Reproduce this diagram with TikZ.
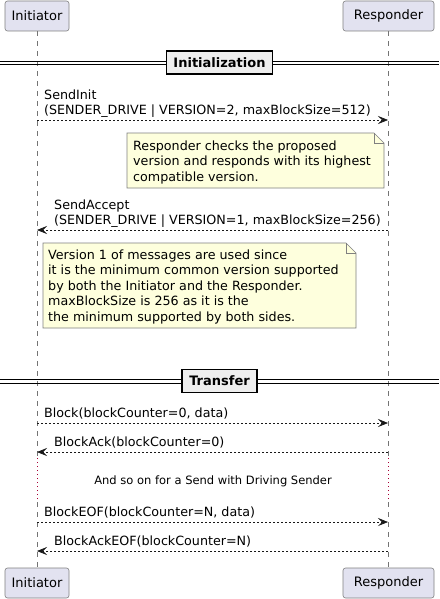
\documentclass[tikz,border=0pt]{standalone}
\usepackage{fontspec}
\setmainfont{DejaVu Sans}
\usetikzlibrary{arrows.meta, positioning}
\definecolor{partfill}{RGB}{226,226,240}
\definecolor{notefill}{RGB}{254,255,221}
\definecolor{dividerfill}{RGB}{238,238,238}
\definecolor{umlline}{RGB}{24,24,24}
\definecolor{delayred}{RGB}{168,0,54}

\tikzset{
  participant/.style={rectangle,draw=umlline!55,fill=partfill,rounded corners=2.5pt,line width=0.6pt,minimum height=30pt,inner sep=0pt,font=\fontsize{13}{15}\selectfont},
  lifeline/.style={umlline!60,line width=0.6pt,dash pattern=on 5pt off 5pt},
  delayline/.style={delayred,line width=0.9pt,dash pattern=on 1pt off 3pt},
  message/.style={umlline,line width=0.7pt,dash pattern=on 2pt off 2pt,-{Stealth[length=10pt,width=8pt,inset=4pt]}},
  msglabel/.style={anchor=north west,inner sep=0pt,align=left,font=\fontsize{12.7}{15}\selectfont},
  divider/.style={rectangle,draw=black,line width=1.6pt,fill=dividerfill,minimum height=23pt,inner xsep=7pt,font=\fontsize{13}{15}\selectfont\bfseries},
  dividerline/.style={black,line width=0.8pt},
  notebox/.style={draw=umlline!55,fill=notefill,line width=0.6pt},
  notetext/.style={anchor=north west,inner sep=0pt,align=left,font=\fontsize{12.7}{15.5}\selectfont},
  delaytext/.style={inner sep=0pt,anchor=base,font=\fontsize{11.5}{13}\selectfont}
}

\begin{document}
\begin{tikzpicture}[x=1pt,y=-1pt]
    \useasboundingbox[fill=white] (0,0) rectangle (439,599);

    % Partecipanti
    \node[participant,minimum width=64pt] (initTop) at (37,16) {Initiator};
    \node[participant,minimum width=91pt] (respTop) at (388.5,16) {Responder};
    \node[participant,minimum width=64pt] (initBot) at (37,583) {Initiator};
    \node[participant,minimum width=91pt] (respBot) at (388.5,583) {Responder};

    % Linee di vita
    \coordinate (initDelayA) at (37,458);
    \coordinate (initDelayB) at (37,502);
    \coordinate (respDelayA) at (388,458);
    \coordinate (respDelayB) at (388,502);
    \draw[lifeline] (initTop.south) -- (initDelayA);
    \draw[delayline] (initDelayA) -- (initDelayB);
    \draw[lifeline] (initDelayB) -- (initBot.north);
    \draw[lifeline] (respTop.south -| respDelayA) -- (respDelayA);
    \draw[delayline] (respDelayA) -- (respDelayB);
    \draw[lifeline] (respDelayB) -- (respBot.north -| respDelayB);

    % Initialization
    \draw[dividerline] (0,61) -- (439,61);
    \draw[dividerline] (0,64.5) -- (439,64.5);
    \node[divider] (initSection) at (219.5,62.5) {Initialization};

    % Punti dei messaggi
    \foreach \msg/\y in {sendinit/120, sendaccept/230, block/423, blockack/452, blockeof/522, blockackeof/551} {
        \coordinate (init-\msg) at (37,\y);
        \coordinate (resp-\msg) at (388,\y);
    }

    % SendInit
    \node[msglabel] (sendInitLabel) at (44,89.5) {SendInit\\(SENDER\_DRIVE | VERSION=2, maxBlockSize=512)};
    \draw[message] (init-sendinit) -- (resp-sendinit);

    % Nota 1
    \draw[notebox] (127,133) -- (374,133) -- (384,143) -- (384,188) -- (127,188) -- cycle;
    \draw[notebox,fill=none] (374,133) -- (374,143) -- (384,143);
    \node[notetext] (checkNote) at (133,140.5) {Responder checks the proposed\\version and responds with its highest\\compatible version.};

    % SendAccept
    \node[msglabel] (sendAcceptLabel) at (54,199.5) {SendAccept\\(SENDER\_DRIVE | VERSION=1, maxBlockSize=256)};
    \draw[message] (resp-sendaccept) -- (init-sendaccept);

    % Nota 2
    \draw[notebox] (43,243) -- (346,243) -- (356,253) -- (356,328) -- (43,328) -- cycle;
    \draw[notebox,fill=none] (346,243) -- (346,253) -- (356,253);
    \node[notetext] (versionNote) at (48,249.5) {Version 1 of messages are used since\\it is the minimum common version supported\\by both the Initiator and the Responder.\\maxBlockSize is 256 as it is the\\the minimum supported by both sides.};

    % Transfer
    \draw[dividerline] (0,379.5) -- (439,379.5);
    \draw[dividerline] (0,383) -- (439,383);
    \node[divider] (transferSection) at (219.5,381) {Transfer};

    % Blocchi
    \node[msglabel] (blockLabel) at (44,407.5) {Block(blockCounter=0, data)};
    \draw[message] (init-block) -- (resp-block);
    \node[msglabel] (blockAckLabel) at (54,436.5) {BlockAck(blockCounter=0)};
    \draw[message] (resp-blockack) -- (init-blockack);

    % Ritardo
    \node[delaytext] (delayNote) at (213,484) {And so on for a Send with Driving Sender};

    % Fine
    \node[msglabel] (blockEofLabel) at (44,506.5) {BlockEOF(blockCounter=N, data)};
    \draw[message] (init-blockeof) -- (resp-blockeof);
    \node[msglabel] (blockAckEofLabel) at (54,535.5) {BlockAckEOF(blockCounter=N)};
    \draw[message] (resp-blockackeof) -- (init-blockackeof);
\end{tikzpicture}
\end{document}
